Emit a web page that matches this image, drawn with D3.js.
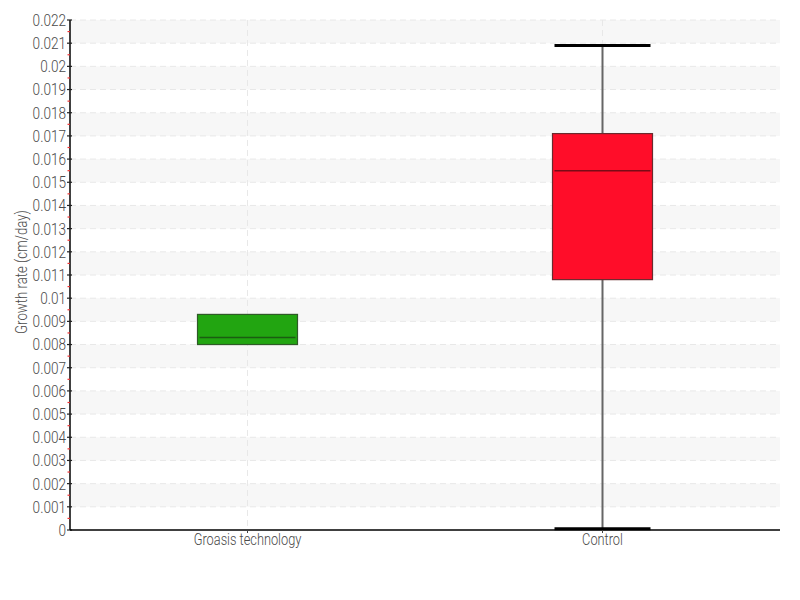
<!DOCTYPE html>
<html><head><meta charset="utf-8">
<script src="https://cdn.jsdelivr.net/npm/d3@7"></script>
<style>body{margin:0;background:#fff}svg{display:block}text{font-family:Roboto,"Noto Sans",sans-serif;font-weight:300;fill:#4a4a4a}</style>
</head><body>
<svg id="c" width="800" height="600"></svg>
<script>
const categories = ["Groasis technology", "Control"];
const mins    = [0.0080, 0.00005];
const q1s     = [0.0080, 0.0108];
const medians = [0.0083, 0.0155];
const q3s     = [0.0093, 0.0171];
const maxs    = [0.0093, 0.0209];
const fills   = ["#22a511", "#ff0d29"];
const strokes = ["#2f5a27", "#6b2a2e"];
const medianColors = ["#1b5c12", "#7a0b16"];
const yTicks = d3.range(0, 0.0225, 0.001);

const svg = d3.select("#c");
const m = {l:70, r:20, t:20, b:70};
const W = 800, H = 600;
const SX = 0.8;
const x = d3.scaleBand().domain(categories).range([m.l, W-m.r]);
const y = d3.scaleLinear().domain([0, 0.022]).range([H-m.b, m.t]);

// bands
const bands = d3.range(1, 22, 2).map(i => i*0.001);
svg.append("g").selectAll("rect").data(bands).join("rect")
  .attr("x", m.l).attr("width", W-m.r-m.l)
  .attr("y", d => y(d+0.001)).attr("height", d => y(d)-y(d+0.001))
  .attr("fill", "#f7f7f7");
// grid
svg.append("g").selectAll("line").data(yTicks.slice(1)).join("line")
  .attr("x1", m.l).attr("x2", W-m.r).attr("y1", d=>y(d)).attr("y2", d=>y(d))
  .attr("stroke", "#e8e8e8").attr("stroke-dasharray", "6,4");
svg.append("g").selectAll("line").data(categories).join("line")
  .attr("x1", d=>x(d)+x.bandwidth()/2).attr("x2", d=>x(d)+x.bandwidth()/2)
  .attr("y1", m.t).attr("y2", H-m.b)
  .attr("stroke", "#e8e8e8").attr("stroke-dasharray", "6,4");

// boxes
const bw = 100, cw = 96;
const g = svg.append("g");
categories.forEach((c,i)=>{
  const cx = x(c)+x.bandwidth()/2;
  if (maxs[i] > q3s[i] || mins[i] < q1s[i]) {
    g.append("line").attr("x1",cx).attr("x2",cx).attr("y1",y(maxs[i])).attr("y2",y(mins[i]))
      .attr("stroke","#666").attr("stroke-width",2);
    [mins[i], maxs[i]].forEach(v=>{
      g.append("line").attr("x1",cx-cw/2).attr("x2",cx+cw/2).attr("y1",y(v)).attr("y2",y(v))
        .attr("stroke","#000").attr("stroke-width",3);
    });
  }
  g.append("rect").attr("x",cx-bw/2).attr("width",bw)
    .attr("y",y(q3s[i])).attr("height",y(q1s[i])-y(q3s[i]))
    .attr("fill",fills[i]).attr("stroke",strokes[i]).attr("stroke-width",1.2);
  g.append("line").attr("x1",cx-bw/2+2).attr("x2",cx+bw/2-2).attr("y1",y(medians[i])).attr("y2",y(medians[i]))
    .attr("stroke",medianColors[i]).attr("stroke-width",1.5);
});

// y axis
const ya = svg.append("g");
ya.append("line").attr("x1",m.l).attr("x2",m.l).attr("y1",m.t).attr("y2",H-m.b).attr("stroke","#000").attr("stroke-width",1.5);
ya.selectAll(".mn").data(d3.range(0.0005, 0.022, 0.001)).join("line")
  .attr("x1",m.l-2.5).attr("x2",m.l).attr("y1",d=>y(d)).attr("y2",d=>y(d)).attr("stroke","#e33").attr("stroke-width",1.2);
ya.selectAll(".mj").data(yTicks).join("line")
  .attr("x1",m.l-3).attr("x2",m.l+2).attr("y1",d=>y(d)).attr("y2",d=>y(d)).attr("stroke","#222").attr("stroke-width",1.2);
ya.selectAll("text").data(yTicks).join("text")
  .attr("transform",d=>`translate(${m.l-4},${y(d)}) scale(${SX},1)`)
  .attr("dy","0.35em").attr("text-anchor","end")
  .attr("font-size",17).text(d=>d3.format("~g")(+d.toFixed(3)));

// x axis
const xa = svg.append("g");
xa.append("line").attr("x1",m.l).attr("x2",W-m.r).attr("y1",H-m.b).attr("y2",H-m.b).attr("stroke","#000").attr("stroke-width",1.5);
xa.selectAll("line.t").data(categories).join("line").attr("class","t")
  .attr("x1",d=>x(d)+x.bandwidth()/2).attr("x2",d=>x(d)+x.bandwidth()/2)
  .attr("y1",H-m.b).attr("y2",H-m.b+3).attr("stroke","#444");
xa.selectAll("text").data(categories).join("text")
  .attr("transform",d=>`translate(${x(d)+x.bandwidth()/2},${H-m.b+15}) scale(${SX},1)`)
  .attr("text-anchor","middle")
  .attr("font-size",16).text(d=>d);

svg.append("text").attr("transform",`translate(27,272) rotate(-90) scale(${SX},1)`)
  .attr("text-anchor","middle").attr("font-size",16.5).text("Growth rate (cm/day)");
</script>
</body></html>
